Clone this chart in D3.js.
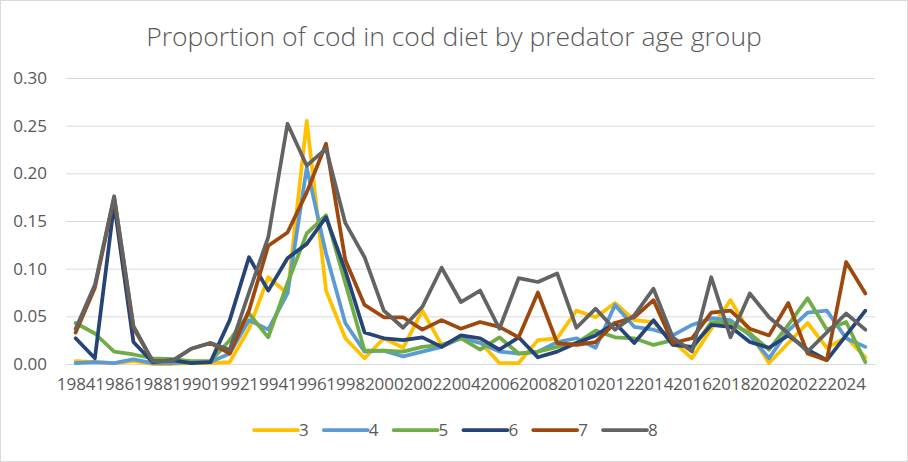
<!DOCTYPE html>
<html>
<head>
<meta charset="utf-8">
<script src="https://cdn.jsdelivr.net/npm/d3@7"></script>
<style>
  body { margin: 0; background: #fff; }
  text { font-family: "Open Sans", sans-serif; fill: #595959; }
</style>
</head>
<body>
<svg id="chart" width="908" height="462"></svg>
<script>
// years on the category axis
var years = d3.range(1984, 2026);
var ageGroups = ["3", "4", "5", "6", "7", "8"];
var yTicks = [0, 0.05, 0.10, 0.15, 0.20, 0.25, 0.30];

// proportion of cod in diet, one array per predator age group
var age3 = [0.003, 0.002, 0.001, 0.003, 0.000, 0.000, 0.001, 0.001, 0.002, 0.037, 0.091, 0.074, 0.255, 0.077, 0.027, 0.006, 0.027, 0.017, 0.056, 0.020, 0.027, 0.023, 0.001, 0.001, 0.025, 0.027, 0.056, 0.049, 0.064, 0.046, 0.044, 0.024, 0.006, 0.037, 0.067, 0.033, 0.001, 0.022, 0.043, 0.017, 0.028, 0.007];
var age4 = [0.001, 0.002, 0.001, 0.005, 0.001, 0.001, 0.002, 0.002, 0.011, 0.046, 0.036, 0.074, 0.206, 0.116, 0.043, 0.013, 0.014, 0.008, 0.013, 0.018, 0.027, 0.022, 0.013, 0.011, 0.013, 0.023, 0.027, 0.017, 0.062, 0.039, 0.036, 0.030, 0.041, 0.048, 0.046, 0.030, 0.006, 0.035, 0.054, 0.056, 0.027, 0.018];
var age5 = [0.043, 0.032, 0.013, 0.010, 0.006, 0.005, 0.003, 0.003, 0.025, 0.053, 0.028, 0.085, 0.137, 0.156, 0.085, 0.014, 0.014, 0.013, 0.018, 0.020, 0.027, 0.015, 0.028, 0.011, 0.013, 0.018, 0.022, 0.035, 0.028, 0.027, 0.020, 0.025, 0.015, 0.044, 0.043, 0.032, 0.015, 0.041, 0.069, 0.036, 0.044, 0.002];
var age6 = [0.027, 0.006, 0.168, 0.023, 0.002, 0.004, 0.001, 0.002, 0.046, 0.112, 0.077, 0.111, 0.126, 0.154, 0.098, 0.033, 0.027, 0.025, 0.028, 0.018, 0.030, 0.027, 0.015, 0.028, 0.007, 0.013, 0.022, 0.030, 0.043, 0.022, 0.046, 0.020, 0.018, 0.041, 0.039, 0.023, 0.017, 0.030, 0.015, 0.004, 0.030, 0.056];
var age7 = [0.033, 0.080, 0.175, 0.038, 0.003, 0.003, 0.016, 0.022, 0.011, 0.056, 0.124, 0.138, 0.180, 0.231, 0.109, 0.062, 0.049, 0.049, 0.036, 0.046, 0.037, 0.044, 0.039, 0.028, 0.075, 0.022, 0.020, 0.023, 0.043, 0.049, 0.067, 0.022, 0.027, 0.054, 0.056, 0.037, 0.030, 0.064, 0.011, 0.004, 0.107, 0.074];
var age8 = [0.037, 0.083, 0.176, 0.040, 0.003, 0.003, 0.016, 0.022, 0.015, 0.075, 0.133, 0.252, 0.208, 0.226, 0.148, 0.112, 0.056, 0.038, 0.060, 0.101, 0.065, 0.077, 0.037, 0.090, 0.086, 0.095, 0.038, 0.058, 0.036, 0.051, 0.079, 0.028, 0.013, 0.091, 0.028, 0.074, 0.049, 0.032, 0.013, 0.033, 0.053, 0.036];

var seriesValues = [age3, age4, age5, age6, age7, age8];
var colors = ["#FFC000", "#5B9BD5", "#70AD47", "#264478", "#9E480E", "#636363"];

var width = 908, height = 462;
var svg = d3.select("#chart");

// chart border
svg.append("rect")
  .attr("x", 0.5).attr("y", 0.5)
  .attr("width", width - 1).attr("height", height - 1)
  .attr("fill", "#fff")
  .attr("stroke", "#d9d9d9");

var x = d3.scalePoint()
  .domain(years)
  .range([66, 875])
  .padding(0.5);

var y = d3.scaleLinear()
  .domain([0, 0.3])
  .range([364, 78]);

// title
svg.append("text")
  .attr("x", 454)
  .attr("y", 46)
  .attr("text-anchor", "middle")
  .style("font-size", "26.5px")
  .style("font-weight", 300)
  .text("Proportion of cod in cod diet by predator age group");

// gridlines + y labels
var yAxis = svg.append("g")
  .attr("transform", "translate(66,0)")
  .call(d3.axisLeft(y)
    .tickValues(yTicks)
    .tickSize(-809)
    .tickPadding(19)
    .tickFormat(d3.format(".2f")));
yAxis.select(".domain").remove();
yAxis.selectAll("line").attr("stroke", "#d9d9d9");
yAxis.selectAll("text")
  .style("font-size", "17px")
  .style("font-family", "'Open Sans', sans-serif")
  .attr("fill", "#595959");

// x labels, every second year
var xAxis = svg.append("g")
  .attr("transform", "translate(0,364)")
  .call(d3.axisBottom(x)
    .tickValues(years.filter(function(d) { return d % 2 === 0; }))
    .tickSize(0)
    .tickPadding(14));
xAxis.select(".domain").attr("stroke", "#d9d9d9");
xAxis.selectAll("text")
  .style("font-size", "17px")
  .style("font-family", "'Open Sans', sans-serif")
  .attr("fill", "#595959");

var line = d3.line()
  .x(function(d, i) { return x(years[i]); })
  .y(function(d) { return y(d); });

svg.append("g")
  .selectAll("path")
  .data(seriesValues)
  .enter().append("path")
  .attr("d", line)
  .attr("fill", "none")
  .attr("stroke", function(d, i) { return colors[i]; })
  .attr("stroke-width", 3.75)
  .attr("stroke-linejoin", "round")
  .attr("stroke-linecap", "round");

// legend
var legend = svg.append("g")
  .selectAll("g")
  .data(ageGroups)
  .enter().append("g")
  .attr("transform", function(d, i) { return "translate(" + (254 + i * 69.8) + ",430)"; });

legend.append("line")
  .attr("x1", 0).attr("x2", 44)
  .attr("stroke", function(d, i) { return colors[i]; })
  .attr("stroke-width", 3.75)
  .attr("stroke-linecap", "round");

legend.append("text")
  .attr("x", 45)
  .attr("y", 6)
  .style("font-size", "17px")
  .text(function(d) { return d; });
</script>
</body>
</html>
